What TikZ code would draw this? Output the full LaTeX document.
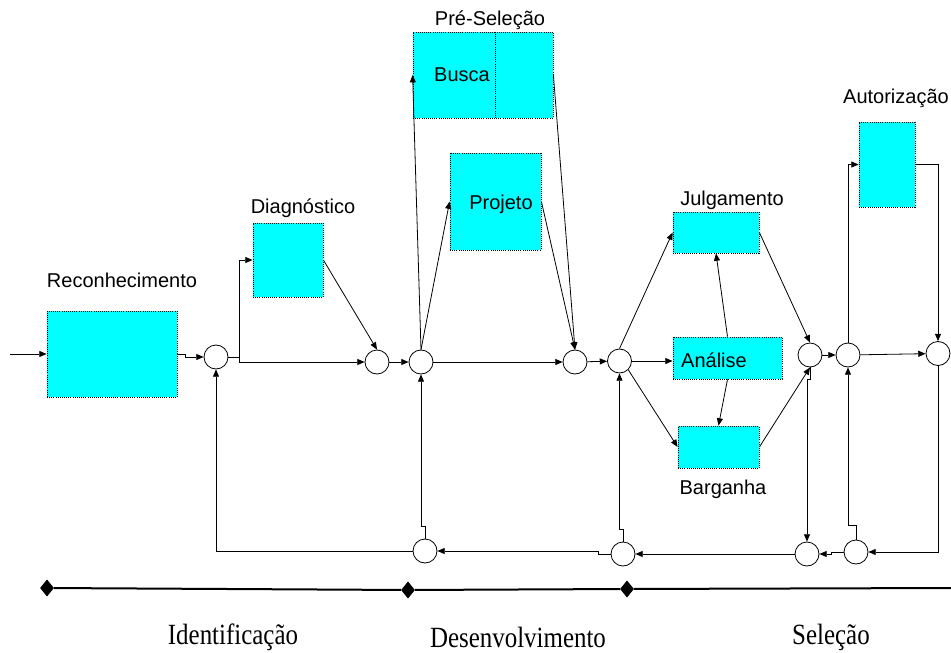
\documentclass[tikz,border=0pt]{standalone}
\usepackage{fontspec}
\setmainfont{Liberation Serif}
\setsansfont{Liberation Sans}
\usetikzlibrary{arrows.meta,shapes.geometric}
\definecolor{ciano}{RGB}{0,255,255}

\begin{document}
\begin{tikzpicture}[x=0.75pt,y=-0.75pt,line width=0.6pt,
  >={Triangle[length=5.5pt,width=4.5pt]},
  caixa/.style={draw, densely dotted, fill=ciano, inner sep=0pt},
  soma/.style={draw, solid, circle, minimum size=18pt, inner sep=0pt},
  rotulo/.style={font=\sffamily\fontsize{15}{18}\selectfont, inner sep=0pt},
  fase/.style={font=\fontsize{22}{26}\selectfont, inner sep=0pt},
  marco/.style={draw, fill=black, diamond, minimum width=9.75pt, minimum height=12pt, inner sep=0pt}]
  \useasboundingbox (0,0) rectangle (951,653);

  % caixas
  \node[caixa, minimum width=97.5pt, minimum height=64.5pt] (rec) at (112,354) {};
  \node[caixa, minimum width=52.5pt, minimum height=55.5pt] (diag) at (288,260) {};
  \node[caixa, minimum width=105pt, minimum height=64.5pt] (busca) at (483,75) {};
  \draw[densely dotted] ([xshift=9pt]busca.north) -- ([xshift=9pt]busca.south);
  \node[caixa, minimum width=68.25pt, minimum height=72.75pt] (proj) at (495.5,201.5) {};
  \node[caixa, minimum width=64.5pt, minimum height=30.75pt] (jul) at (716,232.5) {};
  \node[caixa, minimum width=81.75pt, minimum height=31.5pt] (ana) at (727.5,358) {};
  \node[caixa, minimum width=60.75pt, minimum height=31.5pt] (bar) at (718.5,447) {};
  \node[caixa, minimum width=42pt, minimum height=63.75pt] (aut) at (887,164.5) {};

  % textos
  \node[rotulo] (tRec) at (122,280) {Reconhecimento};
  \node[rotulo] (tDiag) at (303,208) {Diagnóstico};
  \node[rotulo] (tPre) at (490,20) {Pré-Seleção};
  \node[rotulo] (tBusca) at (462,75) {Busca};
  \node[rotulo] (tProj) at (501,204) {Projeto};
  \node[rotulo] (tJul) at (732,200) {Julgamento};
  \node[rotulo] (tAna) at (714,360) {Análise};
  \node[rotulo] (tBar) at (723,489) {Barganha};
  \node[rotulo] (tAut) at (896,98) {Autorização};

  % somadores
  \node[soma] (c1) at (216,357) {};
  \node[soma] (c2) at (377,362) {};
  \node[soma] (c3) at (421,362) {};
  \node[soma] (c4) at (575,362) {};
  \node[soma] (c5) at (619.5,361) {};
  \node[soma] (c6) at (810,355) {};
  \node[soma] (c7) at (848,355) {};
  \node[soma] (c8) at (938,353.5) {};
  \node[soma] (b1) at (425,551) {};
  \node[soma] (b2) at (623,554) {};
  \node[soma] (b3) at (807,554) {};
  \node[soma] (b4) at (856,552) {};

  \coordinate (in) at (10,354);
  \coordinate (s1) at (239,357);

  % ligacoes
  \draw[->] (in) -- (rec);
  \draw[->] (rec.east) -- ++(8,0) |- (c1);
  \draw (c1) -- (s1);
  \draw[->] (s1) |- (diag);
  \draw[->] (s1) |- (c2);
  \draw[->] (diag.east) -- (c2.north);
  \draw[->] (c2) -- (c3);
  \draw[->] (c3.north) -- (busca.west);
  \draw[->] (c3.north) -- (proj.west);
  \draw[->] (c3) -- (c4);
  \draw[->] (busca.east) -- (c4.north);
  \draw[->] (proj.east) -- (c4.north);
  \draw[->] (c4) -- (c5);
  \draw[->] (c5.north) -- (jul.west);
  \draw[->] (c5) -- (c5 -| ana.west);
  \draw[->] (c5.south east) -- (bar.west);
  \draw[->] (ana.north) -- (jul.south);
  \draw[->] (ana.south) -- (bar.north);
  \draw[->] (jul.east) -- (c6.north);
  \draw[->] (bar.east) -- (c6.south);
  \draw[->] (c6) -- (c7);
  \draw[->] (c7.north) |- (aut.west);
  \draw[->] (aut.east) -| (c8.north);
  \draw[->] (c7) -- (c8);

  % realimentacao
  \draw[->] (c8.south) |- (b4.east);
  \draw[->] (b4.north) -- ++(0,-14) -| (c7.south);
  \draw[->] (b4.west) -- ++(-12,0) |- (b3.east);
  \draw[->] (c6.south) -- ++(0,12) -| (b3.north);
  \draw[->] (b3) -- (b2);
  \draw[->] (b2.north) -- ++(0,-12) -| (c5.south);
  \draw[->] (b2.west) -- ++(-12,0) |- (b1.east);
  \draw[->] (b1.north) -- ++(0,-12) -| (c3.south);
  \draw[->] (b1.west) -| (c1.south);

  % linha do tempo
  \node[marco] (d1) at (47,588) {};
  \node[marco] (d2) at (408,590) {};
  \node[marco] (d3) at (627,589) {};
  \coordinate (fim) at (951,588);
  \draw[line width=1.5pt] (d1) -- (d2) -- (d3) -- (fim);

  \node[fase] (f1) at (233,637) {\scalebox{0.85}[1]{Identificação}};
  \node[fase] (f2) at (518,637) {\scalebox{0.85}[1]{Desenvolvimento}};
  \node[fase] (f3) at (831,637) {\scalebox{0.85}[1]{Seleção}};
\end{tikzpicture}
\end{document}
